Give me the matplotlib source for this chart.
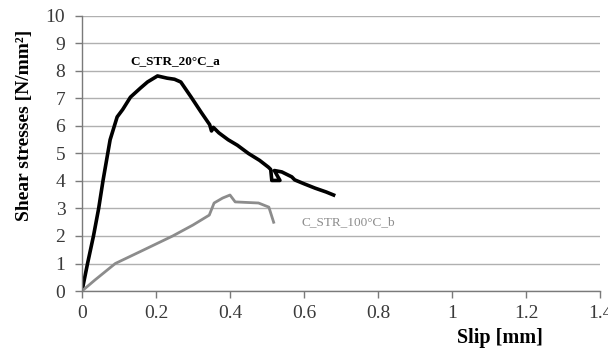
import matplotlib
matplotlib.use("Agg")
import matplotlib.pyplot as plt

# Data
slip_20 = [0.0, 0.015, 0.031, 0.045, 0.057, 0.076, 0.095, 0.11, 0.131, 0.158, 0.177, 0.204,
           0.23, 0.25, 0.267, 0.295, 0.322, 0.345, 0.35, 0.355, 0.37, 0.395, 0.42, 0.45,
           0.48, 0.504, 0.51, 0.513, 0.535, 0.52, 0.54, 0.567, 0.575, 0.60, 0.63, 0.66, 0.68]
stress_20 = [0.0, 1.0, 2.0, 3.0, 4.03, 5.5, 6.33, 6.6, 7.05, 7.38, 7.6, 7.82,
             7.74, 7.7, 7.6, 7.05, 6.5, 6.05, 5.82, 5.95, 5.75, 5.5, 5.3, 5.0,
             4.75, 4.5, 4.42, 4.02, 4.02, 4.38, 4.33, 4.15, 4.04, 3.9, 3.74, 3.6, 3.49]

slip_100 = [0.0, 0.035, 0.09, 0.16, 0.245, 0.30, 0.344, 0.357, 0.38, 0.40, 0.414,
            0.477, 0.505, 0.518]
stress_100 = [0.0, 0.4, 1.0, 1.45, 2.0, 2.4, 2.76, 3.2, 3.38, 3.49, 3.24,
              3.2, 3.05, 2.5]

x_ticks = [0, 0.2, 0.4, 0.6, 0.8, 1.0, 1.2, 1.4]
x_tick_labels = ["0", "0.2", "0.4", "0.6", "0.8", "1", "1.2", "1.4"]
y_ticks = list(range(0, 11))

label_20 = "C_STR_20°C_a"
label_100 = "C_STR_100°C_b"

plt.rcParams['font.family'] = ['Liberation Serif', 'DejaVu Serif']

fig = plt.figure(figsize=(6.08, 3.51), dpi=100)
ax = fig.add_axes([82/608, 60/351, (600-82)/608, (291-16)/351])

ax.plot(slip_20, stress_20, color='black', lw=2.6, solid_joinstyle='round')
ax.plot(slip_100, stress_100, color='#8c8c8c', lw=2.0, solid_joinstyle='round')

ax.set_xlim(0, 1.4)
ax.set_ylim(0, 10)
ax.set_xticks(x_ticks)
ax.set_xticklabels(x_tick_labels)
ax.set_yticks(y_ticks)

ax.yaxis.grid(True, color='#b0b0b0', lw=1.0)
ax.set_axisbelow(True)
for s in ['top', 'right']:
    ax.spines[s].set_visible(False)
for s in ['left', 'bottom']:
    ax.spines[s].set_color('#7a7a7a')
    ax.spines[s].set_linewidth(1.0)

ax.tick_params(axis='both', colors='#7a7a7a', labelcolor='#3a3a3a', labelsize=14,
               length=5, width=1.0, direction='out')
ax.tick_params(axis='x', pad=5)
ax.tick_params(axis='y', pad=7)

ax.text(0.131, 8.36, label_20, fontsize=9.5, fontweight='bold', color='black',
        va='center', ha='left')
ax.text(0.594, 2.5, label_100, fontsize=9.5, color='#8c8c8c', va='center', ha='left')

fig.text(25/608, 1 - 125/351, "Shear stresses [N/mm²]", rotation=90,
         fontsize=14, fontweight='bold', ha='center', va='center')
fig.text(500/608, 1 - 338/351, "Slip [mm]", fontsize=14.5, fontweight='bold',
         ha='center', va='center')

fig.savefig("out.png", dpi=100)
